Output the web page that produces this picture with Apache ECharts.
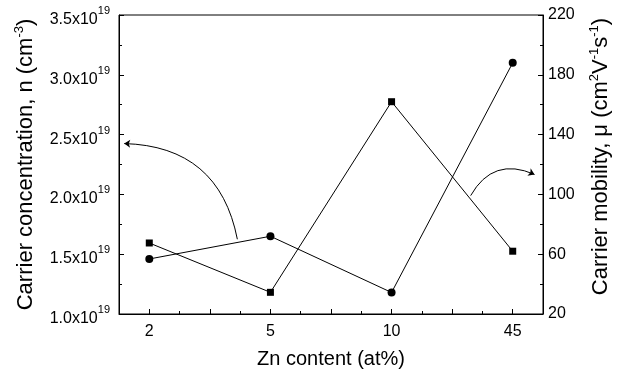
<!DOCTYPE html>
<html>
<head>
<meta charset="utf-8">
<script src="https://cdn.jsdelivr.net/npm/echarts@6/dist/echarts.min.js"></script>
<style>html,body{margin:0;padding:0;background:#fff}#c{width:624px;height:374px}</style>
</head>
<body>
<div id="c"></div>
<script>
// Data
var categories = ['2', '5', '10', '45'];
// Carrier concentration in units of 1e19 cm^-3 (circles, left axis)
var concentration = [1.46, 1.65, 1.18, 3.10];
// Carrier mobility in cm^2 V^-1 s^-1 (squares, right axis)
var mobility = [67.5, 34.5, 162, 62];
var leftTicks = [1.0, 1.5, 2.0, 2.5, 3.0, 3.5];
var rightTicks = [20, 60, 100, 140, 180, 220];
// Annotation arrows (data coordinates: category index, concentration)
var arrowLeft = [[0.727, 1.625], [-0.207, 2.425]];
var arrowRight = [[2.653, 1.99], [3.18, 2.167]];

var xIdx = categories.map(function (c, i) { return i; });
var xMajor = [], xMinor = [];
for (var k = 0; k <= 6; k++) xMajor.push(k * 0.5);
for (var k2 = 0; k2 < 6; k2++) xMinor.push(0.25 + k2 * 0.5);

var FONT = 'Liberation Sans, Arial, Helvetica, sans-serif';
var BLACK = '#000';

var chart = echarts.init(document.getElementById('c'), null, { renderer: 'canvas' });
chart.setOption({
  animation: false,
  backgroundColor: '#fff',
  textStyle: { fontFamily: FONT, color: BLACK },
  grid: { left: 119, right: 81, top: 15, bottom: 59, show: true, borderColor: BLACK, borderWidth: 1, containLabel: false },
  xAxis: [{
    type: 'value', min: -0.25, max: 3.25, position: 'bottom',
    axisLine: { show: true, onZero: false, lineStyle: { color: BLACK, width: 1 } },
    axisTick: { show: true, inside: true, length: 5, customValues: xMajor, lineStyle: { color: BLACK } },
    axisLabel: { customValues: xIdx, margin: 10, fontSize: 16, color: BLACK, fontFamily: FONT,
      formatter: function (v) { return categories[Math.round(v)]; } },
    splitLine: { show: false },
    name: 'Zn content (at%)', nameLocation: 'middle', nameGap: 35,
    nameTextStyle: { fontSize: 20, color: BLACK, fontFamily: FONT }
  }, {
    type: 'value', min: -0.25, max: 3.25, position: 'bottom',
    axisLine: { show: false, onZero: false },
    axisTick: { show: true, inside: true, length: 3, customValues: xMinor, lineStyle: { color: BLACK } },
    axisLabel: { show: false },
    splitLine: { show: false }
  }],
  yAxis: [{
    type: 'value', min: 1.0, max: 3.5, interval: 0.5, position: 'left',
    axisLine: { show: true, onZero: false, lineStyle: { color: BLACK, width: 1 } },
    axisTick: { show: true, inside: true, length: 5, lineStyle: { color: BLACK } },
    minorTick: { show: true, splitNumber: 2, length: 3, lineStyle: { color: BLACK } },
    splitLine: { show: false },
    axisLabel: {
      margin: 9, color: BLACK, fontFamily: FONT, padding: [9, 0, 0, 0],
      formatter: function (v) { return '{a|' + v.toFixed(1) + 'x10}{s|19}'; },
      rich: {
        a: { fontSize: 16, lineHeight: 28, color: BLACK, fontFamily: FONT },
        s: { fontSize: 11, lineHeight: 11, verticalAlign: 'top', color: BLACK, fontFamily: FONT }
      }
    },
    name: '{a|Carrier concentration, n (cm}{s|-3}{a|)}',
    nameLocation: 'middle', nameRotate: 90, nameGap: 80,
    nameTextStyle: {
      rich: {
        a: { fontSize: 22, lineHeight: 26, color: BLACK, fontFamily: FONT },
        s: { fontSize: 13, lineHeight: 13, verticalAlign: 'top', color: BLACK, fontFamily: FONT }
      }
    }
  }, {
    type: 'value', min: 20, max: 220, interval: 20, position: 'right',
    axisLine: { show: true, onZero: false, lineStyle: { color: BLACK, width: 1 } },
    axisTick: { show: true, inside: true, length: 3, lineStyle: { color: BLACK } },
    splitLine: { show: false },
    axisLabel: { customValues: rightTicks, margin: 5, fontSize: 16, color: BLACK, fontFamily: FONT },
    name: '{a|Carrier mobility, μ (cm}{s|2}{a|V}{s|-1}{a|s}{s|-1}{a|)}',
    nameLocation: 'middle', nameRotate: 90, nameGap: 45,
    nameTextStyle: {
      padding: [0, 0, 0, 16],
      rich: {
        a: { fontSize: 22, lineHeight: 26, color: BLACK, fontFamily: FONT },
        s: { fontSize: 13, lineHeight: 13, verticalAlign: 'top', color: BLACK, fontFamily: FONT }
      }
    }
  }, {
    type: 'value', min: 20, max: 220, interval: 20, position: 'right',
    axisLine: { show: false, onZero: false },
    axisTick: { show: true, inside: true, length: 5, customValues: rightTicks, lineStyle: { color: BLACK } },
    axisLabel: { show: false },
    splitLine: { show: false }
  }],
  series: [{
    type: 'line', xAxisIndex: 0, yAxisIndex: 0,
    data: concentration.map(function (v, i) { return [xIdx[i], v]; }),
    symbol: 'circle', symbolSize: 8,
    lineStyle: { color: BLACK, width: 1 }, itemStyle: { color: BLACK }
  }, {
    type: 'line', xAxisIndex: 0, yAxisIndex: 1,
    data: mobility.map(function (v, i) { return [xIdx[i], v]; }),
    symbol: 'rect', symbolSize: 7,
    lineStyle: { color: BLACK, width: 1 }, itemStyle: { color: BLACK }
  }, {
    type: 'lines', coordinateSystem: 'cartesian2d', xAxisIndex: 0, yAxisIndex: 0,
    symbol: ['none', 'arrow'], symbolSize: 6,
    lineStyle: { color: BLACK, width: 1, curveness: -0.4, opacity: 1 },
    data: [{ coords: arrowLeft }]
  }, {
    type: 'lines', coordinateSystem: 'cartesian2d', xAxisIndex: 0, yAxisIndex: 0,
    symbol: ['none', 'arrow'], symbolSize: 6,
    lineStyle: { color: BLACK, width: 1, curveness: 0.45, opacity: 1 },
    data: [{ coords: arrowRight }]
  }]
});
</script>
</body>
</html>
